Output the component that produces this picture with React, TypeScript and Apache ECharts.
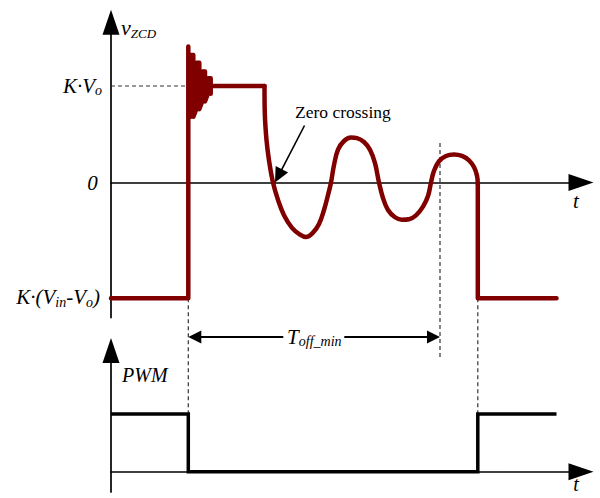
import React, { useEffect, useRef } from 'react';
import * as echarts from 'echarts';

// ---- data (time in arbitrary units, t = 0 on the vertical axis; v_ZCD normalised to K·Vo = 1) ----
const T_MAX = 470;
const V_HIGH = 1.0; // K·Vo
const V_LOW = -1.2; // K·(Vin - Vo)
const T_RISE = 77.3;
const T_FALL = 366.8;
const T_TOFF_END = 329;
const T_ZC = 164;
const V_TOFF_ARROW = -1.6;

// step + high-frequency ringing part of v_ZCD (before the resonant valley)
const stepT = [0, 77.3, 77.3, 77.3, 79.8, 79.8, 82.3, 82.3, 85.3, 85.3, 88.3, 88.3, 91.2, 91.2, 94, 94, 96.9, 96.9, 99.7, 99.7, 99.7, 153.5];
const stepV = [-1.2, -1.2, 1.41, 0.68, 0.68, 1.32, 1.32, 0.68, 0.76, 1.24, 1.24, 0.76, 0.84, 1.15, 1.15, 0.84, 0.92, 1.08, 1.08, 0.92, 1.0, 1.0];

// resonant oscillation of v_ZCD after the switch turns off
const ringT = [153.5, 153.8, 155.5, 158, 162, 167, 173, 181, 189, 195, 202, 208, 213, 217, 220, 223, 227, 233, 240, 246, 253, 259, 264, 268, 272, 277, 284, 291, 298, 305, 312, 317, 320, 323, 328, 335, 343, 351, 358, 363, 366, 366.8];
const ringV = [1.0, 0.72, 0.44, 0.23, 0.0, -0.18, -0.34, -0.47, -0.54, -0.565, -0.52, -0.43, -0.285, -0.13, 0.0, 0.18, 0.34, 0.43, 0.466, 0.46, 0.42, 0.34, 0.2, 0.0, -0.16, -0.285, -0.36, -0.385, -0.38, -0.34, -0.25, -0.14, 0.0, 0.12, 0.22, 0.275, 0.29, 0.275, 0.23, 0.16, 0.07, -0.015];

// falling edge back to K·(Vin - Vo)
const fallT = [366.8, 366.8, 445.5];
const fallV = [-0.015, -1.2, -1.2];

// PWM signal
const pwmT = [0, 77.3, 77.3, 366.8, 366.8, 445.5];
const pwmV = [1, 1, 0, 0, 1, 1];

const RED = '#800000';
const SERIF = 'Liberation Serif';

const zip = (a: number[], b: number[]) => a.map((x, i) => [x, b[i]]);

const axisBase = {
  type: 'value',
  axisLine: {
    show: true,
    onZero: true,
    symbol: ['none', 'triangle'],
    symbolSize: [17, 25],
    lineStyle: { color: '#000', width: 1.7 },
  },
  axisTick: { show: false },
  axisLabel: { show: false },
  splitLine: { show: false },
};

const redLine = { color: RED, width: 4.5, cap: 'round', join: 'round' };

export default function App() {
  const ref = useRef<HTMLDivElement>(null);

  useEffect(() => {
    const chart = echarts.init(ref.current!, null, { renderer: 'svg' });
    chart.setOption({
      animation: false,
      backgroundColor: '#fff',
      grid: [
        { left: 111, right: 19, top: 22.3, bottom: 180.4 },
        { left: 111, right: 19, top: 350.5, bottom: 6.1 },
      ],
      xAxis: [
        { ...axisBase, gridIndex: 0, min: 0, max: T_MAX },
        { ...axisBase, gridIndex: 1, min: 0, max: T_MAX },
      ],
      yAxis: [
        { ...axisBase, gridIndex: 0, min: -1.4, max: 1.66 },
        { ...axisBase, gridIndex: 1, min: -0.35, max: 2.1 },
      ],
      series: [
        { type: 'line', xAxisIndex: 0, yAxisIndex: 0, data: zip(stepT, stepV), symbol: 'none', clip: false, silent: true, lineStyle: redLine },
        { type: 'line', xAxisIndex: 0, yAxisIndex: 0, data: zip(ringT, ringV), symbol: 'none', smooth: 0.4, clip: false, silent: true, lineStyle: redLine },
        { type: 'line', xAxisIndex: 0, yAxisIndex: 0, data: zip(fallT, fallV), symbol: 'none', clip: false, silent: true, lineStyle: redLine },
        { type: 'line', xAxisIndex: 1, yAxisIndex: 1, data: zip(pwmT, pwmV), symbol: 'none', clip: false, silent: true, lineStyle: { color: '#000', width: 3.5, cap: 'butt', join: 'miter' } },
      ],
    });

    const P = (g: number, t: number, v: number) => chart.convertToPixel({ gridIndex: g }, [t, v]) as number[];

    const dashed = (a: number[], b: number[]) => ({
      type: 'line', silent: true, z: 1,
      shape: { x1: a[0], y1: a[1], x2: b[0], y2: b[1] },
      style: { stroke: '#333', lineWidth: 1.2, lineDash: [4, 3] },
    });
    const head = (tip: number[], from: number[], len: number, halfW: number) => {
      const dx = tip[0] - from[0], dy = tip[1] - from[1];
      const d = Math.hypot(dx, dy);
      const ux = dx / d, uy = dy / d;
      const bx = tip[0] - ux * len, by = tip[1] - uy * len;
      return {
        type: 'polygon', silent: true, z: 20,
        shape: { points: [tip, [bx - uy * halfW, by + ux * halfW], [bx + uy * halfW, by - ux * halfW]] },
        style: { fill: '#000' },
      };
    };
    const txt = (x: number, y: number, text: string, fontSize: number, align: string, italic = true, rich?: any) => ({
      type: 'text', silent: true, z: 30, x, y,
      style: {
        text, fontSize, fontFamily: SERIF, fontStyle: italic ? 'italic' : 'normal', fill: '#000',
        align, verticalAlign: 'middle', rich,
      },
    });
    const richSub = (mainSize: number, mainLH: number, subSize: number) => ({
      m: { fontSize: mainSize, lineHeight: mainLH, fontStyle: 'italic', fontFamily: SERIF, fill: '#000' },
      s: { fontSize: subSize, lineHeight: subSize, fontStyle: 'italic', fontFamily: SERIF, fill: '#000', verticalAlign: 'bottom' },
    });

    const axisX = P(0, 0, 0)[0];
    const zeroY = P(0, 0, 0)[1];
    const highY = P(0, 0, V_HIGH)[1];
    const lowY = P(0, 0, V_LOW)[1];
    const pwmZeroY = P(1, 0, 0)[1];

    // T_off_min dimension arrow
    const aL = P(0, T_RISE, V_TOFF_ARROW);
    const aR = P(0, T_TOFF_END, V_TOFF_ARROW);
    const textCx = aL[0] + 126;

    // Zero-crossing arrow
    const zcTip = P(0, T_ZC, 0);
    const zcTail = [zcTip[0] + 29.5, zcTip[1] - 57];
    const zcDx = zcTip[0] - zcTail[0], zcDy = zcTip[1] - zcTail[1];
    const zcD = Math.hypot(zcDx, zcDy);
    const zcBase = [zcTip[0] - (zcDx / zcD) * 14, zcTip[1] - (zcDy / zcD) * 14];

    const elements: any[] = [
      dashed(P(0, 0, V_HIGH), P(0, T_RISE, V_HIGH)),
      dashed(P(0, T_RISE, V_LOW), P(1, T_RISE, 1)),
      dashed(P(0, T_FALL, V_LOW), P(1, T_FALL, 1)),
      dashed(P(0, T_TOFF_END, 0.41), P(0, T_TOFF_END, -1.81)),
      {
        type: 'line', silent: true, z: 10,
        shape: { x1: aL[0] + 4, y1: aL[1], x2: aR[0] - 4, y2: aR[1] },
        style: { stroke: '#000', lineWidth: 2 },
      },
      head(aL, aR, 13, 6.5),
      head(aR, aL, 13, 6.5),
      {
        type: 'rect', silent: true, z: 15,
        shape: { x: textCx - 31, y: aL[1] - 10, width: 61, height: 20 },
        style: { fill: '#fff' },
      },
      txt(textCx, aL[1], '{m|T}{s|off_min}', 21, 'center', true, richSub(21, 24, 14)),
      {
        type: 'line', silent: true, z: 20,
        shape: { x1: zcTail[0], y1: zcTail[1], x2: zcBase[0], y2: zcBase[1] },
        style: { stroke: '#000', lineWidth: 1.6 },
      },
      head(zcTip, zcTail, 15, 7),
      txt(295, 112, 'Zero crossing', 17.5, 'left', false),
      txt(axisX + 10, 27.5, '{m|v}{s|ZCD}', 22, 'left', true, richSub(22, 25, 13)),
      txt(axisX - 9, highY, '{m|K·V}{s|o}', 21, 'right', true, richSub(21, 24, 14)),
      txt(axisX - 18.5, zeroY + 0.5, '0', 21, 'center'),
      txt(axisX - 11, lowY - 1, '{m|K·(V}{s|in}{m|-V}{s|o}{m|)}', 21, 'right', true, richSub(21, 24, 14)),
      txt(axisX + 11, 375, 'PWM', 20, 'left'),
      txt(576, zeroY + 19, 't', 21, 'center'),
      txt(576, pwmZeroY + 12.5, 't', 20, 'center'),
    ];
    chart.setOption({ graphic: { elements } });

    return () => chart.dispose();
  }, []);

  return (
    <div
      ref={ref}
      style={{ position: 'fixed', left: 0, top: 0, width: 600, height: 498, background: '#fff' }}
    />
  );
}
